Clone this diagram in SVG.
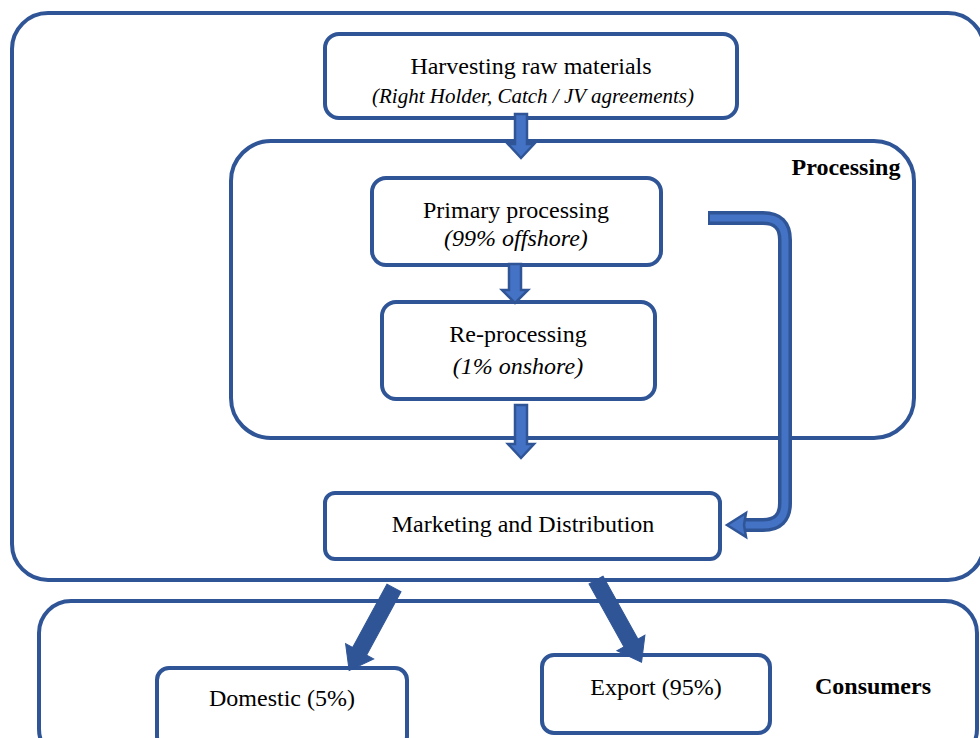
<svg xmlns="http://www.w3.org/2000/svg" width="980" height="738" viewBox="0 0 980 738" font-family="'Liberation Serif', 'Times New Roman', serif">
<style>
.box{fill:#fff;stroke:#2F5597;stroke-width:4}
.big{fill:none;stroke:#2F5597;stroke-width:4}
text{font-size:24px;fill:#000;text-anchor:middle}
.i{font-style:italic}
.b{font-weight:bold}
.arr{fill:#4472C4;stroke:#2F5597;stroke-width:2.5;stroke-linejoin:miter}
.darr{fill:#2F5597;stroke:#2F5597;stroke-width:1}
</style>
<rect width="980" height="738" fill="#fff"/>
<g id="outer"><rect class="big" x="12" y="13" width="972" height="567" rx="36"/></g>
<g id="consumers"><rect class="big" x="39" y="601" width="938" height="160" rx="32"/>
<text class="b" x="873" y="694" font-family="Liberation Serif">Consumers</text></g>
<g id="processing"><rect class="big" x="231" y="141" width="683" height="297" rx="40"/>
<text class="b" x="846" y="175" font-family="Liberation Serif">Processing</text></g>
<g id="harvesting"><rect class="box" x="325" y="34" width="412" height="84" rx="14"/>
<text x="531" y="74" font-family="Liberation Serif">Harvesting raw materials</text>
<text class="i" x="533" y="103" font-family="Liberation Serif" style="font-size:21px">(Right Holder, Catch / JV agreements)</text></g>
<g id="primary"><rect class="box" x="372" y="178" width="289" height="87" rx="14"/>
<text x="516" y="218" font-family="Liberation Serif">Primary processing</text>
<text class="i" x="516" y="246" font-family="Liberation Serif">(99% offshore)</text></g>
<g id="reprocessing"><rect class="box" x="382" y="302" width="273" height="97" rx="14"/>
<text x="518" y="342" font-family="Liberation Serif">Re-processing</text>
<text class="i" x="518" y="374" font-family="Liberation Serif">(1% onshore)</text></g>
<g id="marketing"><rect class="box" x="325" y="493" width="395" height="66" rx="10"/>
<text x="523" y="532" font-family="Liberation Serif">Marketing and Distribution</text></g>
<g id="domestic"><rect class="box" x="157" y="668" width="250" height="80" rx="12"/>
<text x="282" y="706" font-family="Liberation Serif">Domestic (5%)</text></g>
<g id="export"><rect class="box" x="542" y="655" width="228" height="78" rx="12"/>
<text x="656" y="695" font-family="Liberation Serif">Export (95%)</text></g>
<g id="connectors">
<polygon class="arr" points="515,114 527,114 527,144 534,144 521,158 508,144 515,144"/>
<polygon class="arr" points="509,264 521,264 521,290 528,290 515,303 502,290 509,290"/>
<polygon class="arr" points="515,405 527,405 527,444 534,444 521,458 508,444 515,444"/>
<path d="M708,218 H763 Q785,218 785,240 V503 Q785,525 763,525 H742" fill="none" stroke="#2F5597" stroke-width="14" stroke-linecap="butt"/>
<path d="M710,218 H763 Q785,218 785,240 V503 Q785,525 763,525 H742" fill="none" stroke="#4472C4" stroke-width="7"/>
<polygon class="arr" points="727,525 746,513 744,525 746,537"/>
<polygon class="darr" transform="translate(394,588) rotate(28.5)" points="-8,0 8,0 8,72 16,72 0,94 -16,72 -8,72"/>
<polygon class="darr" transform="translate(596,580) rotate(-29)" points="-8,0 8,0 8,72 16,72 0,94 -16,72 -8,72"/>
</g>
</svg>
